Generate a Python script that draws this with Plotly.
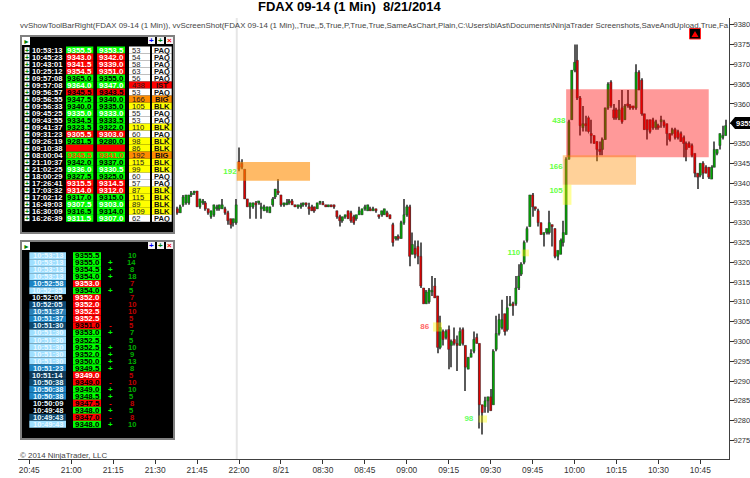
import plotly.graph_objects as go

W, H = 750, 478
FONT = "Liberation Sans"

TITLE = "FDAX 09-14 (1 Min)  8/21/2014"
SUBTITLE = (r"vvShowToolBarRight(FDAX 09-14 (1 Min)), vvScreenShot(FDAX 09-14 (1 Min),,True,,5,True,P,True,True,"
            r"SameAsChart,Plain,C:\Users\blAst\Documents\NinjaTrader Screenshots,SaveAndUpload,True,Fa")
COPYRIGHT = "© 2014 NinjaTrader, LLC"

tick_labels = ["20:45", "21:00", "21:15", "21:30", "21:45", "22:00", "8/21", "08:30", "08:45",
               "09:00", "09:15", "09:30", "09:45", "10:00", "10:15", "10:30", "10:45"]
price_ticks = list(range(9275, 9385, 5))
first_bar = 53
last_price = 9355

opens = [
 9333.5,9332.5,9334.5,9335,9335,9337,9337.5,9338,9334,9335,
 9335,9333.5,9331.5,9332,9333.5,9333.5,9333.5,9333.5,9332.5,9331,
 9330,9330,9345.5,9345,9343.5,9336,9334,9334,9335,9335,
 9333.5,9333,9333,9332.5,9334.5,9336.5,9338,9337,9334.5,9334.5,
 9335,9335.5,9334.5,9334,9334,9334.5,9335,9334,9334,9334,
 9333.5,9335,9335,9334.5,9334,9334.5,9334.5,9333,9331.5,9330.5,
 9331.5,9333,9332.5,9331.5,9331,9332,9332,9333.5,9333,9333.5,
 9333,9333.5,9332,9332,9332,9332.5,9332,9329.5,9326,9326.5,
 9326,9330,9332,9334,9322,9323.5,9324,9321.5,9313.5,9309.5,
 9310,9312.5,9314,9311.5,9298.5,9302.5,9301,9303,9299,9300.5,
 9299.5,9299,9303,9299,9293,9296,9297.5,9301,9299.5,9284,
 9283.5,9285,9286,9284,9298,9302,9303.5,9307,9303,9309,
 9309.5,9309.5,9313.5,9317,9320,9325.5,9329,9337,9334,9333,
 9330,9327,9327.5,9327.5,9329.5,9328.5,9321.5,9322,9325,9327,
 9346,9356,9368.5,9371,9361.5,9354,9355,9356.5,9352.5,9352,
 9350.5,9348.5,9348.5,9351,9359,9365.5,9358.5,9358.5,9356,9359,
 9356,9360,9359.5,9359.5,9359,9368,9366,9357.5,9356,9356,
 9356,9354,9354.5,9355.5,9355.5,9355,9352.5,9352.5,9353.5,9353,
 9352.5,9351.5,9350,9350,9349.5,9347.5,9342.5,9342,9345,9344,
 9344,9341,9344,9347.5,9349.5,9351.5,9352]
highs = [
 9334,9334.5,9337,9337,9337,9338,9338,9338,9336,9336,
 9335.5,9333.5,9333,9334.5,9334.5,9334.5,9336,9334,9333,9331,
 9331,9336,9349,9346,9343.5,9336,9335,9335,9335.5,9335.5,
 9335,9334.5,9334,9334,9336.5,9338.5,9341,9337,9335,9336,
 9336,9336,9334.5,9334.5,9335,9335,9335,9335,9334.5,9334,
 9335,9335.5,9335.5,9334.5,9334.5,9334.5,9334.5,9333,9332,9331.5,
 9332,9333,9333,9332,9332,9334,9333.5,9334.5,9334.5,9334,
 9334,9333.5,9332,9333,9333.5,9333,9332,9330,9326.5,9327,
 9330.5,9336,9334.5,9334.5,9327.5,9325.5,9325.5,9325,9313.5,9313,
 9313.5,9316.5,9316,9311.5,9306.5,9303,9303,9304,9300.5,9303.5,
 9301.5,9303.5,9303.5,9299,9296,9298,9302.5,9302,9299.5,9284,
 9286,9286,9288,9298,9306.5,9307,9310.5,9307,9311.5,9311.5,
 9310,9316.5,9319.5,9320,9325.5,9329,9337,9337.5,9334,9333.5,
 9330,9327.5,9328.5,9333,9329.5,9328.5,9323,9326,9330.5,9346.5,
 9356,9368.5,9375,9375,9362,9359.5,9357,9357,9356,9352,
 9350.5,9350.5,9351.5,9359,9365.5,9366,9360,9359,9361,9363.5,
 9360,9363.5,9360,9359.5,9370,9368.5,9366.5,9357.5,9356,9356,
 9356.5,9356,9355,9357,9356,9355,9352.5,9354,9354,9353.5,
 9353,9352,9350.5,9350.5,9350,9347.5,9342.5,9345,9345.5,9344.5,
 9344,9344.5,9350.5,9348.5,9352.5,9354.5,9356]
lows = [
 9332,9332.5,9334,9334.5,9334.5,9336.5,9337,9334,9333.5,9334.5,
 9333,9332,9331,9331.5,9333,9333,9333.5,9332,9329.5,9328.5,
 9329,9329.5,9343,9343.5,9336,9334,9331,9333.5,9331,9334.5,
 9331,9333,9332.5,9332.5,9334,9336,9337,9334,9334,9334.5,
 9334.5,9334.5,9334,9333.5,9333.5,9334,9334,9332,9333,9332.5,
 9333.5,9334.5,9334.5,9334,9334,9334,9333.5,9331,9329,9330,
 9331,9331,9330,9329.5,9330.5,9332,9332,9333,9333,9333,
 9333,9332.5,9331,9331.5,9332,9331.5,9331,9324,9325.5,9325.5,
 9326,9329.5,9331.5,9319,9322,9321,9319.5,9313.5,9309.5,9309.5,
 9309.5,9311.5,9311,9297,9298,9299,9300.5,9293,9293.5,9299,
 9292.5,9299,9299,9287.5,9293,9296,9297,9299.5,9278,9276.5,
 9282,9282,9282.5,9284,9297.5,9301.5,9303,9301.5,9302.5,9309,
 9306.5,9309,9313,9316.5,9319.5,9325,9329,9331.5,9333,9329,
 9327,9324,9327,9327,9324,9321,9320.5,9322,9324,9327,
 9346,9356,9368,9361,9352,9353,9353,9352.5,9350,9350,
 9345.5,9347,9347,9351,9358.5,9359,9356,9356,9356,9355,
 9356,9359,9358.5,9358.5,9358.5,9363.5,9357,9353.5,9351,9352.5,
 9353.5,9353.5,9353.5,9354,9354,9349.5,9350.5,9352,9351,9351,
 9350.5,9346.5,9345.5,9349,9346.5,9341.5,9338.5,9341.5,9341,9342.5,
 9341,9341,9344,9347,9348.5,9351,9352]
closes = [
 9332.5,9334,9336.5,9337,9337,9337.5,9338,9334,9336,9335.5,
 9333.5,9332.5,9333,9334.5,9334,9334.5,9334.5,9332.5,9330.5,9329.5,
 9331,9334.5,9343.5,9344,9336,9334,9335,9335,9334.5,9335.5,
 9334,9334,9334,9334,9336,9338.5,9337.5,9334.5,9335,9335,
 9335.5,9334.5,9334,9334.5,9334.5,9335,9334.5,9333.5,9333,9333,
 9335,9335,9334.5,9334,9334.5,9334,9334,9331.5,9330.5,9331.5,
 9332,9331,9330.5,9330,9332,9333,9333.5,9334,9334.5,9333,
 9333.5,9333,9331.5,9333,9333.5,9331.5,9331,9325,9326.5,9326,
 9330,9332,9334,9321.5,9324.5,9322,9321.5,9314,9309.5,9312.5,
 9313,9312.5,9311,9298.5,9303.5,9300.5,9302.5,9298,9300,9299.5,
 9299,9302.5,9299.5,9293.5,9296,9297,9300.5,9299.5,9284,9282,
 9285,9286,9282.5,9297.5,9302,9305.5,9305.5,9302.5,9308.5,9309.5,
 9309,9313.5,9316.5,9319.5,9325,9328.5,9337,9334,9333.5,9330,
 9327,9327.5,9328.5,9330,9329,9321.5,9323,9325.5,9327.5,9346,
 9355.5,9368.5,9370.5,9361.5,9354.5,9355,9354.5,9353,9352,9350,
 9348.5,9348,9351,9359,9365,9359.5,9356.5,9356.5,9358.5,9355.5,
 9359.5,9359.5,9359,9359,9368,9363.5,9357.5,9353.5,9353.5,9353,
 9354,9355.5,9354,9356,9354.5,9352.5,9351,9353.5,9351.5,9351.5,
 9350.5,9350,9348.5,9349,9347,9342.5,9341.5,9345,9342.5,9342.5,
 9341.5,9344,9348.5,9348.5,9352.5,9352,9354.5]

# zones drawn on the price chart: from-bar, to-bar, low, high
zone_orange = (74.2, 100.4, 9340.6, 9345.3)
zone_red = (192, 243, 9346.5, 9363.7)
zone_peach = (190.8, 217, 9339.6, 9347)
zones_yellow = [(190.8, 193.9, 9334.5, 9339.6), (176.1, 178.7, 9321.5, 9323.2),
                (144.4, 147.6, 9302.5, 9304.8), (160.7, 163.7, 9279.5, 9281.3)]
session_bar = 74.2

mark_bars = [71.8, 189.4, 188.4, 188.4, 173.3, 141.4, 157.2]
mark_prices = [9342.8, 9355.6, 9344.1, 9338, 9322.4, 9303.6, 9280.4]
mark_texts = ["192", "438", "166", "105", "110", "86", "98"]
mark_colors = ["#66ff44", "#66ff44", "#66ff44", "#66ff44", "#66ff44", "#ff6666", "#66ff66"]

# first panel
t1_times = ["10:53:13","10:45:23","10:43:01","10:25:12","09:57:08","09:57:08","09:56:57","09:56:55","09:56:33",
            "09:45:25","09:43:55","09:41:37","09:31:23","09:26:19","09:10:38","08:00:04","21:10:37","21:02:25",
            "18:00:29","17:26:41","17:03:32","17:02:12","16:49:03","16:30:09","16:26:39"]
t1_hi = ["9355.5","9343.0","9341.5","9354.5","9365.0","9364.0","9345.5","9347.5","9340.0","9335.0","9334.5","9323.5",
         "9305.5","9281.5","","9345.5","9342.0","9336.0","9327.5","9315.5","9314.0","9317.0","9307.5","9316.5","9311.5"]
t1_lo = ["9353.5","9342.0","9339.0","9351.0","9355.0","9347.0","9343.5","9340.0","9335.0","9333.0","9333.5","9322.0",
         "9303.0","9280.0","","9341.0","9337.0","9330.5","9325.0","9314.5","9312.0","9315.0","9303.0","9314.0","9307.0"]
t1_vol = [53,54,58,63,56,438,53,166,105,55,53,110,60,98,86,192,115,99,60,57,87,115,89,109,62]
t1_kind = ["PAQ","PAQ","PAQ","PAQ","PAQ","IST","PAQ","BIG","BLK","PAQ","PAQ","BLK","PAQ","BLK","BLK","BIG","BLK","BLK",
           "PAQ","PAQ","BLK","BLK","BLK","BLK","PAQ"]
t1_bg = list("grrrggrggggg" "rgrg" "ggg" "rr" "gggg")
t1_fg = ["white","white","white","white","black","white","black","black","black","white","black","black",
         "white","black","black","#ff5000","black","white","black","white","white","black","white","black","white"]
kind_bg = {"PAQ": "white", "IST": "#ff0000", "BIG": "#ff8c00", "BLK": "#ffff00"}

# second panel
t2_times = ["10:53:13","10:53:13","10:53:13","10:53:13","10:52:58","10:52:35","10:52:05","10:52:05","10:51:37","10:51:37",
            "10:51:30","10:51:30","10:51:30","10:51:30","10:51:30","10:51:30","10:51:23","10:51:14","10:50:38","10:50:38",
            "10:50:38","10:50:09","10:49:48","10:49:43","10:49:43"]
t2_price = ["9355.5","9355.0","9354.5","9354.0","9353.0","9354.0","9352.0","9352.0","9352.5","9352.5","9351.0","9353.0",
            "9352.5","9352.5","9352.0","9350.0","9349.5","9349.0","9349.0","9349.0","9348.5","9347.5","9348.0","9347.0","9348.0"]
t2_bg = list("ggggrgrrrrrgggggg" "rrgg" "rgrg")
t2_fg = ["black","black","black","black","white","black","white","white","white","white","black","black",
         "black","black","black","black","black","white","black","black","black","black","black","black","black"]
t2_sign = ["","+","+","+","","+","","","","","-","+","","+","+","+","+","","-","+","+","-","+","-","+"]
t2_qty = [10,14,8,18,7,5,7,10,10,5,5,7,5,10,9,13,8,5,10,10,5,8,5,8,10]
t2_shade = ["#9fdfff","#9fdfff","#9fdfff","#9fdfff","#1c84c4","#9fdfff","#000000","#0c4a78","#2a80b8","#1c84c4",
            "#0f4a70","#9fdfff","#9fdfff","#9fdfff","#9fdfff","#9fdfff","#1c84c4","#103c5c","#0f4a70","#1c84c4",
            "#1c84c4","#000000","#000000","#0f4a70","#9fdfff"]

L, R, T, B = 18, 729, 18, 459
px = lambda x: (x - L) / (R - L)
py = lambda y: (B - y) / (B - T)

shapes, notes = [], []

def rect(x0, y0, x1, y1, fill, line=None, lw=0):
    shapes.append(dict(type="rect", xref="paper", yref="paper", x0=px(x0), x1=px(x1), y0=py(y0), y1=py(y1),
                       fillcolor=fill, line=dict(color=line, width=lw) if line else dict(width=0), layer="above"))

def text(x, y, s, color="black", size=8, bold=True, anchor="center"):
    if bold:
        s = f"<b>{s}</b>"
    notes.append(dict(xref="paper", yref="paper", x=px(x), y=py(y), text=s, showarrow=False, xanchor=anchor,
                      yanchor="middle", borderpad=0, font=dict(family=FONT, size=size, color=color)))

def zone(z, fill):
    shapes.append(dict(type="rect", xref="x", yref="y", x0=z[0], x1=z[1], y0=z[2], y1=z[3],
                       fillcolor=fill, line=dict(width=0), layer="above"))

def frame(top, bottom):
    rect(19, top - 1, 176, bottom + 1, "white")
    rect(20, top, 175, bottom, "#808080")
    rect(22, top + 2, 173, bottom - 2, "#000000")
    rect(22, top + 2, 30, top + 10, "white")
    text(26, top + 6, "►", "#008000", 7, False)
    for x0, sym, col in [(148, "+", "#0000ff"), (157, "+", "#008000"), (166, "×", "#ff0000")]:
        rect(x0, top + 2, x0 + 7, top + 9, "#f4f4f4")
        text(x0 + 3.5, top + 5.5, sym, col, 8)

session_line = dict(type="line", xref="x", yref="paper", x0=session_bar, x1=session_bar, y0=0, y1=1,
                    line=dict(color="#e6e6e6", width=2), layer="below")
shapes.append(session_line)

zone(zone_orange, "rgba(255,140,0,0.6)")
zone(zone_red, "rgba(255,0,0,0.4)")
zone(zone_peach, "rgba(255,140,0,0.4)")
for z in zones_yellow:
    zone(z, "rgba(255,255,0,0.4)")

# first panel
frame(35, 234)
ROW1, STEP = 50.0, 7.012
for i, t in enumerate(t1_times):
    yc = ROW1 + i * STEP
    y0, y1 = yc - STEP / 2, yc + STEP / 2
    bg = "#00ff00" if t1_bg[i] == "g" else "#ff0000"
    rect(24.5, yc - 2.8, 29.5, yc + 2.8, "white")
    text(27, yc, "+", "#008000", 7)
    text(31, yc, t, "white", 7.6, True, "left")
    rect(66, y0, 93.3, y1, bg)
    rect(97, y0, 125, y1, bg)
    if t1_hi[i]:
        text(79.6, yc, t1_hi[i], t1_fg[i])
        text(111, yc, t1_lo[i], t1_fg[i])
    k = kind_bg[t1_kind[i]]
    rect(129, y0, 150, y1, k)
    rect(152, y0, 171.7, y1, k)
    text(131, yc, t1_vol[i], "#222222", 7.6, False, "left")
    text(161.8, yc, t1_kind[i], "#111111", 7.6)

# second panel
frame(240, 440)
ROW2, STEP2 = 255.7, 7.025
for i, t in enumerate(t2_times):
    yc = ROW2 + i * STEP2
    y0, y1 = yc - STEP2 / 2, yc + STEP2 / 2
    rect(29.3, y0, 66, y1, t2_shade[i])
    text(47.6, yc, t, "#e8f8ff", 7.6)
    up = t2_bg[i] == "g"
    rect(73, y0, 101, y1, "#00ff00" if up else "#ff0000")
    text(87, yc, t2_price[i], t2_fg[i])
    col = "#00b000" if up else "#c00000"
    if t2_sign[i]:
        text(110.7, yc, t2_sign[i], "#00ff00" if t2_sign[i] == "+" else "#ff0000", 8)
    text(131.7, yc, t2_qty[i], col, 7.6)

# titles and furniture
text(350, 7, TITLE, "black", 13)
text(19, 26, SUBTITLE, "#444444", 7.9, False, "left")
text(19, 455, COPYRIGHT, "#444444", 7.9, False, "left")

# alert icon
rect(689.5, 28.5, 700.5, 39, "#000000", "#ff2020", 1)
shapes.append(dict(type="path", xref="paper", yref="paper", layer="above", fillcolor="#ff0000", line=dict(width=0),
                   path=f"M {px(691.5)} {py(37)} L {px(695)} {py(31)} L {px(698.5)} {py(37)} Z"))

# last-price tag
tag_y = py(123)
dy = 6 / (B - T)
shapes.append(dict(type="path", xref="paper", yref="paper", layer="above", fillcolor="#000000", line=dict(width=0),
                   path=f"M {px(730)} {tag_y} L {px(735)} {tag_y + dy} L {px(751)} {tag_y + dy} "
                        f"L {px(751)} {tag_y - dy} L {px(735)} {tag_y - dy} Z"))
text(734.5, 123, last_price, "white", 7.5, True, "left")

bars = list(range(first_bar, first_bar + len(opens)))
bar_colors = ["#00a800" if c >= o else "#e00000" for o, c in zip(opens, closes)]

fig = go.Figure()
# wicks
fig.add_trace(go.Bar(x=bars, y=[h - l for h, l in zip(highs, lows)], base=lows, width=0.36,
                     marker=dict(color="#5a5a5a", line=dict(width=0)), hoverinfo="skip", showlegend=False))
# bodies
fig.add_trace(go.Bar(x=bars, y=[max(abs(c - o), 0.4) for o, c in zip(opens, closes)],
                     base=[min(o, c) for o, c in zip(opens, closes)], width=0.76,
                     marker=dict(color=bar_colors, line=dict(color="#303030", width=0.5)),
                     hoverinfo="skip", showlegend=False))
fig.add_trace(go.Scatter(
    x=mark_bars, y=mark_prices, mode="text", text=[f"<b>{t}</b>" for t in mark_texts],
    textfont=dict(family=FONT, size=8, color=mark_colors), hoverinfo="skip", showlegend=False))

fig.update_layout(
    width=W, height=H, margin=dict(l=L, r=W - R, t=T, b=H - B, autoexpand=False), autosize=False,
    paper_bgcolor="white", plot_bgcolor="white", showlegend=False, barmode="overlay",
    shapes=shapes, annotations=notes,
    xaxis=dict(range=[-4.04, 250.25], tickmode="array", tickvals=[i * 15 for i in range(len(tick_labels))],
               ticktext=tick_labels, ticks="outside", ticklen=4, tickcolor="#333333", tickwidth=1,
               showline=True, linecolor="#404040", linewidth=1, showgrid=False, zeroline=False,
               ticklabelstandoff=-1,
               tickfont=dict(family=FONT, size=8.4, color="#333333")),
    yaxis=dict(range=[9270.3, 9381.7], side="right", tickmode="array", tickvals=price_ticks,
               ticks="outside", ticklen=4, tickcolor="#333333", tickwidth=1,
               showline=True, linecolor="#404040", linewidth=1, showgrid=False, zeroline=False,
               ticklabelstandoff=-2,
               tickfont=dict(family=FONT, size=7.5, color="#333333")),
)

fig.write_html("out.html", config=dict(displayModeBar=False),
               post_script="document.body.style.margin='0';document.documentElement.style.overflow='hidden';")
